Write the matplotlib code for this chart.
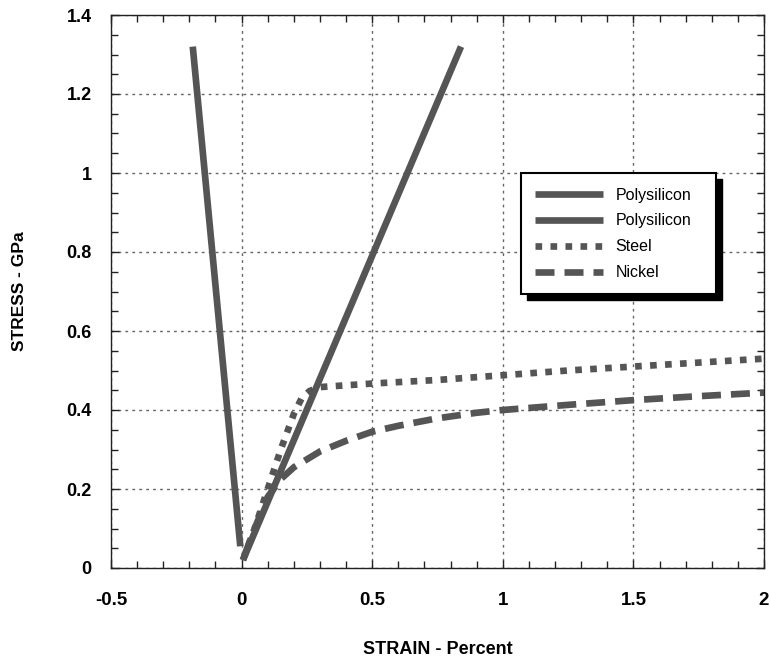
import matplotlib
matplotlib.use("Agg")
import matplotlib.pyplot as plt
from matplotlib.ticker import MultipleLocator
from matplotlib.patches import Rectangle

plt.rcParams['font.family'] = ['Liberation Sans', 'DejaVu Sans']

# stress-strain data (strain in %, stress in GPa)
poly1_x = [-0.187, -0.005]
poly1_y = [1.32, 0.055]
poly2_x = [0.005, 0.84]
poly2_y = [0.02, 1.32]
steel_x = [0.005, 0.05, 0.1, 0.15, 0.2, 0.23, 0.26, 0.3, 0.5, 0.75, 1.0, 1.25, 1.5, 1.75, 2.0]
steel_y = [0.02, 0.1, 0.2, 0.3, 0.39, 0.43, 0.448, 0.458, 0.467, 0.476, 0.488, 0.5, 0.51, 0.52, 0.53]
nickel_x = [0.01, 0.05, 0.1, 0.15, 0.2, 0.3, 0.4, 0.5, 0.6, 0.75, 0.9, 1.0, 1.25, 1.5, 1.75, 2.0]
nickel_y = [0.03, 0.1, 0.18, 0.225, 0.255, 0.295, 0.322, 0.345, 0.36, 0.379, 0.393, 0.4, 0.413, 0.425, 0.435, 0.444]
xticks = [-0.5, 0, 0.5, 1, 1.5, 2]
xtick_labels = ['-0.5', '0', '0.5', '1', '1.5', '2']
yticks = [0, 0.2, 0.4, 0.6, 0.8, 1, 1.2, 1.4]
ytick_labels = ['0', '0.2', '0.4', '0.6', '0.8', '1', '1.2', '1.4']

col = '#555555'
lw = 4.8
fig = plt.figure(figsize=(7.7, 6.58), dpi=100)
ax = fig.add_axes([111 / 770, 90 / 658, 653 / 770, 553 / 658])

ax.plot(poly1_x, poly1_y, color=col, lw=lw, solid_capstyle='butt', label='Polysilicon')
ax.plot(poly2_x, poly2_y, color=col, lw=lw, solid_capstyle='butt', label='Polysilicon')
ax.plot(steel_x, steel_y, color=col, lw=lw, linestyle=(0, (1.0, 1.25)), dash_capstyle='butt', label='Steel')
ax.plot(nickel_x, nickel_y, color=col, lw=lw, linestyle=(0, (2.85, 1.5)), dash_capstyle='butt', label='Nickel')

ax.set_xlim(-0.5, 2)
ax.set_ylim(0, 1.4)
ax.set_xticks(xticks, xtick_labels)
ax.set_yticks(yticks, ytick_labels)
ax.xaxis.set_minor_locator(MultipleLocator(0.1))
ax.yaxis.set_minor_locator(MultipleLocator(0.05))
ax.tick_params(which='both', direction='in', top=True, right=True, width=1, color='#222222')
ax.tick_params(which='major', length=6)
ax.tick_params(which='minor', length=5)
ax.tick_params(axis='x', which='major', labelsize=13.5, pad=17)
ax.tick_params(axis='y', which='major', labelsize=13, pad=14)
for lab in ax.get_xticklabels() + ax.get_yticklabels():
    lab.set_fontweight('bold')

ax.grid(True, which='major', color='#666666', linestyle=(0, (2, 3)), linewidth=1)
for s in ax.spines.values():
    s.set_linewidth(1)
    s.set_color('#222222')

ax.set_xlabel('STRAIN - Percent', fontsize=13, fontweight='bold', labelpad=23)
ax.set_ylabel('STRESS - GPa', fontsize=12.5, fontweight='bold', labelpad=28)

leg = ax.legend(loc='upper left', bbox_to_anchor=(0.628, 0.495, 0.298, 0.219), mode='expand',
                fancybox=False, framealpha=1, edgecolor='black',
                handlelength=4.2, handletextpad=0.8, borderpad=0.9, labelspacing=0.68,
                borderaxespad=0, prop={'size': 11.5})
leg.get_frame().set_linewidth(1.5)
leg.set_zorder(10)

# solid black drop shadow behind the legend box
fig.canvas.draw()
bb = leg.get_frame().get_window_extent().transformed(fig.transFigure.inverted())
sh = Rectangle((bb.x0 + 6 / 770, bb.y0 - 6 / 658), bb.width, bb.height,
               transform=fig.transFigure, facecolor='black', edgecolor='black', zorder=9)
ax.add_artist(sh)
sh.set_clip_on(False)

fig.savefig('out.png', dpi=100)
